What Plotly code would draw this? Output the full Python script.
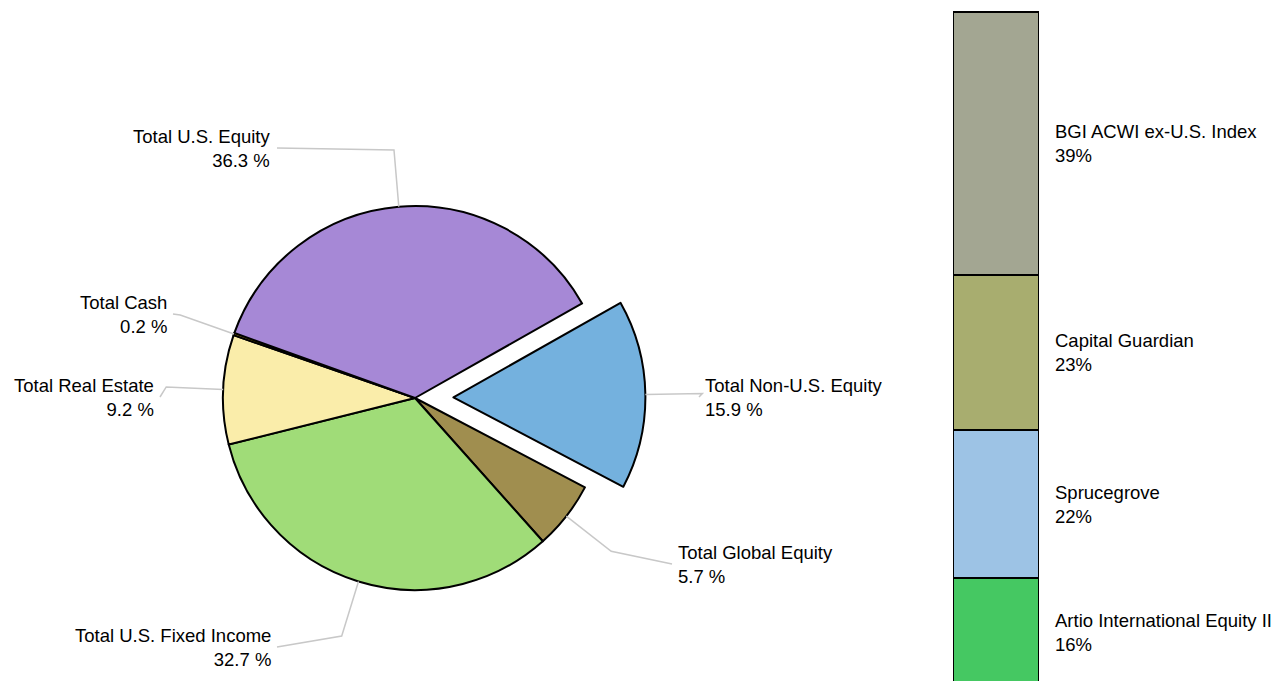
import math
import plotly.graph_objects as go

# ---------------- data ----------------
pie_labels = ["Total Non-U.S. Equity", "Total Global Equity", "Total U.S. Fixed Income",
              "Total Real Estate", "Total Cash", "Total U.S. Equity"]
pie_values = [15.9, 5.7, 32.7, 9.2, 0.2, 36.3]
pie_colors = ["#74B1DE", "#A08E4F", "#A0DC78", "#FAEDAA", "#A08000", "#A688D6"]
pie_pull = [0.2, 0, 0, 0, 0, 0]

bar_labels = ["Artio International Equity II", "Sprucegrove", "Capital Guardian", "BGI ACWI ex-U.S. Index"]
bar_values = [16, 22, 23, 39]
bar_colors = ["#45C862", "#9DC3E5", "#A8AD6F", "#A3A692"]

# ---------------- layout constants (pixels) ----------------
W, H = 1281, 681
CX, CY, R = 415, 398, 192
ROT = 60.5
ELBOW = 57
# label anchor: (x edge, y centre, side)
label_pos = {
    "Total U.S. Equity": (273, 148, "right"),
    "Total Cash": (169, 314, "right"),
    "Total Real Estate": (156, 397, "right"),
    "Total Non-U.S. Equity": (703, 397, "left"),
    "Total Global Equity": (676, 564, "left"),
    "Total U.S. Fixed Income": (273, 647, "right"),
}

def px(x):
    return x / W

def py(y):
    return 1 - y / H

maxpull = max(pie_pull)
half = R * (1 + maxpull)

fig = go.Figure()
fig.add_trace(go.Pie(
    labels=pie_labels, values=pie_values, sort=False, direction="clockwise",
    rotation=ROT, pull=pie_pull, textinfo="none", hoverinfo="label+percent",
    marker=dict(colors=pie_colors, line=dict(color="black", width=2)),
    domain=dict(x=[px(CX - half), px(CX + half)], y=[py(CY + half), py(CY - half)]),
    showlegend=False,
))

LABEL_FONT = dict(family="Liberation Sans, Arial", size=18.5, color="black")
annotations = []
shapes = []
total = sum(pie_values)
cum = 0.0
for lab, v, pl in zip(pie_labels, pie_values, pie_pull):
    a0 = ROT + 360 * cum / total
    a1 = a0 + 360 * v / total
    cum += v
    mid = math.radians((a0 + a1) / 2)
    cx = CX + pl * R * math.sin(mid)
    cy = CY - pl * R * math.cos(mid)
    ax, ay = cx + R * math.sin(mid), cy - R * math.cos(mid)
    ex, ey = cx + (R + ELBOW) * math.sin(mid), cy - (R + ELBOW) * math.cos(mid)
    lx, ly, side = label_pos[lab]
    tx = lx + 4 if side == "right" else lx - 4
    shapes.append(dict(type="path", xref="paper", yref="paper",
                       path=f"M {px(ax)} {py(ay)} L {px(ex)} {py(ey)} L {px(tx)} {py(ly)}",
                       line=dict(color="#C8C8C8", width=1.5)))
    annotations.append(dict(xref="paper", yref="paper", x=px(lx), y=py(ly),
                            xanchor="right" if side == "right" else "left", yanchor="middle",
                            align="right" if side == "right" else "left",
                            text=f"{lab}<br>{v:.1f} %", showarrow=False, font=LABEL_FONT))

# ---------------- stacked bar ----------------
for lab, v, c in zip(bar_labels, bar_values, bar_colors):
    fig.add_trace(go.Bar(x=["Non-U.S."], y=[v], name=lab, width=1,
                         marker=dict(color=c, line=dict(color="black", width=2)),
                         xaxis="x", yaxis="y", showlegend=False, hoverinfo="name+y"))

BAR_TOP, BAR_BOTTOM = 12, 686
scale = (BAR_BOTTOM - BAR_TOP) / sum(bar_values)
y_lo = (BAR_BOTTOM - H) / scale
y_hi = sum(bar_values) + BAR_TOP / scale

cum = 0
for lab, v in zip(bar_labels, bar_values):
    annotations.append(dict(xref="paper", yref="y", x=px(1053), y=cum + v / 2,
                            xanchor="left", yanchor="middle", align="left",
                            text=f"{lab}<br>{v}%", showarrow=False,
                            font=dict(family="Liberation Sans, Arial", size=18.5, color="black")))
    cum += v

fig.update_layout(
    width=W, height=H, margin=dict(l=0, r=0, t=0, b=0),
    paper_bgcolor="white", plot_bgcolor="white",
    barmode="stack", bargap=0,
    xaxis=dict(domain=[px(953), px(1039)], range=[-0.5, 0.5], visible=False, fixedrange=True),
    yaxis=dict(domain=[0, 1], range=[y_lo, y_hi], visible=False, fixedrange=True),
    annotations=annotations, shapes=shapes,
)

fig.write_html("out.html", config={"displayModeBar": False},
               post_script="document.body.style.margin='0';document.body.style.overflow='hidden';")
